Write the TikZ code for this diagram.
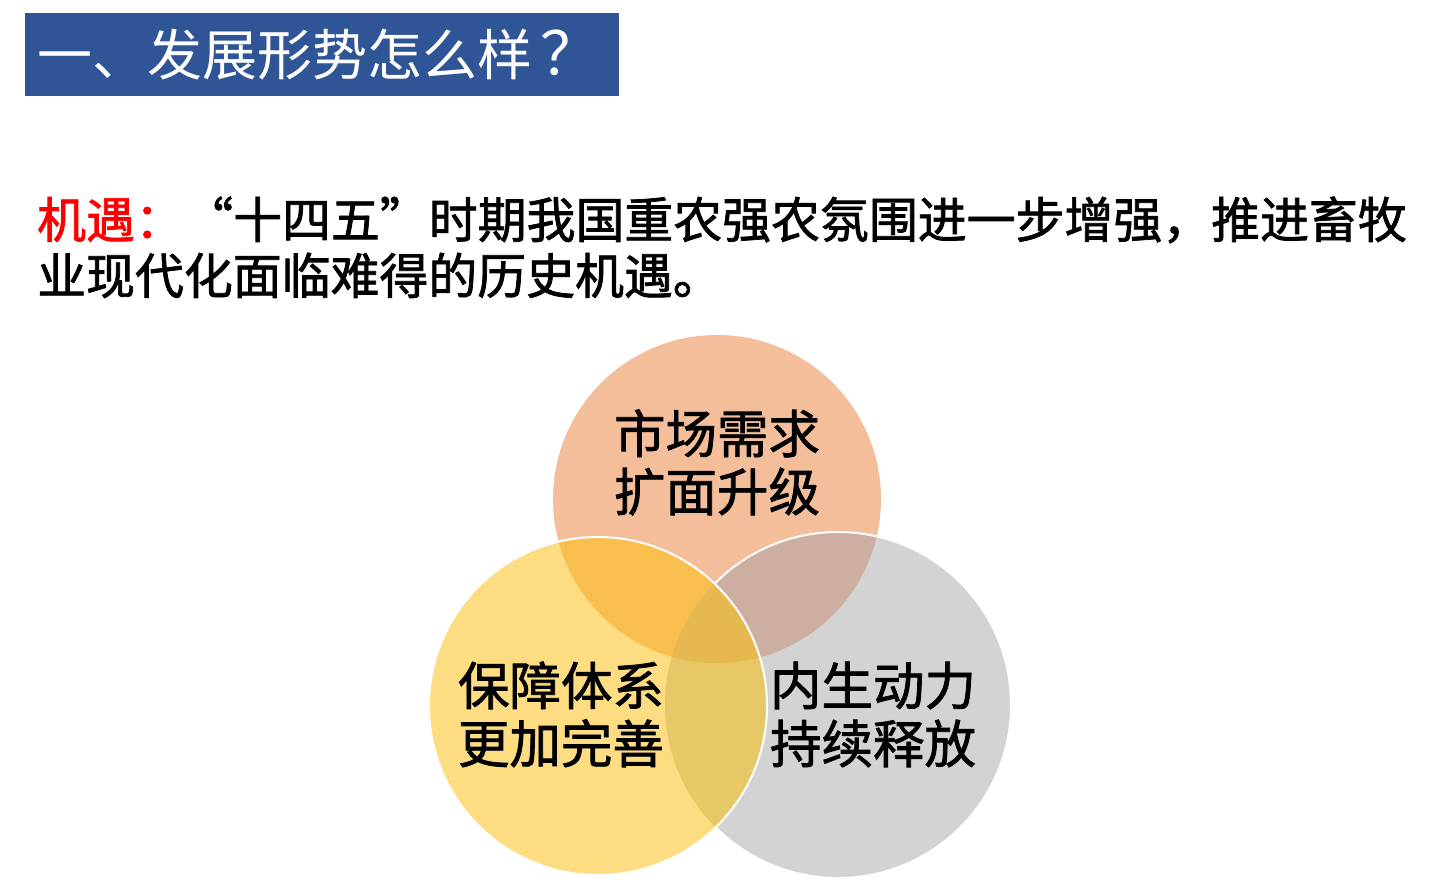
\documentclass[tikz,border=0pt]{standalone}
\usepackage{fontspec}
\setmainfont{Noto Sans CJK SC}
\newfontfamily\cjk{Noto Sans CJK SC}
\newfontfamily\cjkb[FakeBold=1.5]{Noto Sans CJK SC}
\definecolor{titleblue}{HTML}{2F5597}
\definecolor{ctop}{HTML}{F4BE9A}
\definecolor{cleft}{HTML}{FEDC82}
\definecolor{cright}{HTML}{D3D3D3}
\definecolor{ctl}{HTML}{F8BF4F}
\definecolor{ctr}{HTML}{CCAFA0}
\definecolor{clr}{HTML}{E6C866}
\definecolor{call}{HTML}{E5B94F}
\tikzset{
  bodytext/.style={anchor=base west, inner sep=0pt, font=\cjkb\fontsize{48.9}{58}\selectfont},
  circtext/.style={anchor=base, inner sep=0pt, font=\cjkb\fontsize{51.5}{58}\selectfont},
  outline/.style={draw=white, line width=2pt}
}
\begin{document}
\begin{tikzpicture}[x=1pt,y=-1pt]
\useasboundingbox (0,0) rectangle (1434,884);
% title
\fill[titleblue] (25,13) rectangle (619,96);
\node[anchor=base west, inner sep=0pt, text=white, font=\cjk\fontsize{55}{60}\selectfont] (title) at (37,75) {一、发展形势怎么样\hspace{8pt}{\fontsize{60}{60}\selectfont ？}};
% body
\node[bodytext] (l1a) at (37,238) {\textcolor{red}{机遇：}};
\node[bodytext, anchor=base west] (l1b) at (l1a.base east) {“十四五”时期我国重农强农氛围进一步增强，推进畜牧};
\node[bodytext] (l2) at (37,294) {业现代化面临难得的历史机遇。};
% venn
\coordinate (T) at (717,499);
\coordinate (L) at (598,706);
\coordinate (R) at (838,705);
\def\rT{164pt}\def\rL{169pt}\def\rR{173pt}
\fill[ctop] (T) circle (\rT);
\fill[cright] (R) circle (\rR);
\fill[cleft] (L) circle (\rL);
\begin{scope}\clip (T) circle (\rT); \fill[ctr] (R) circle (\rR);\end{scope}
\begin{scope}\clip (L) circle (\rL); \fill[clr] (R) circle (\rR);\end{scope}
\begin{scope}\clip (T) circle (\rT); \fill[ctl] (L) circle (\rL);\end{scope}
\begin{scope}\clip (T) circle (\rT); \clip (L) circle (\rL); \fill[call] (R) circle (\rR);\end{scope}
% outlines
\begin{scope}[even odd rule]
  \clip (0,0) rectangle (1434,884) (L) circle (\rL);
  \draw[outline] (R) circle (\rR);
\end{scope}
\draw[outline] (L) circle (\rL);
% circle texts
\node[circtext] (t1) at (717,453) {市场需求};
\node[circtext] (t2) at (717,511) {扩面升级};
\node[circtext] (l1) at (561,705) {保障体系};
\node[circtext] (l2c) at (561,763) {更加完善};
\node[circtext] (r1) at (873,705) {内生动力};
\node[circtext] (r2) at (873,763) {持续释放};
\end{tikzpicture}
\end{document}
